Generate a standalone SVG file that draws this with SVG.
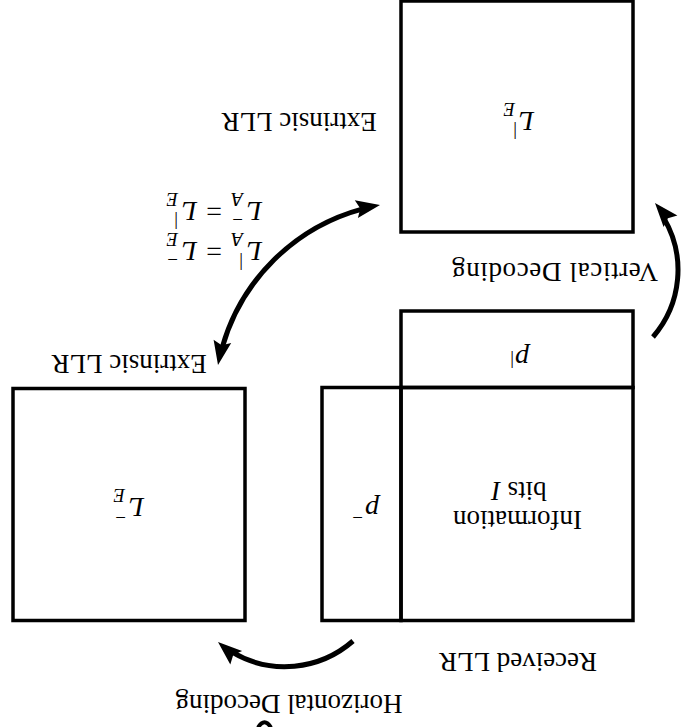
<svg xmlns="http://www.w3.org/2000/svg" width="681" height="727" viewBox="0 0 681 727">
<style>
.box{fill:none;stroke:#000;stroke-width:3.5}
.t{font-family:"Liberation Serif","DejaVu Serif",serif;font-size:27px;fill:#000}
.m{font-family:"Liberation Serif","DejaVu Serif",serif;font-style:italic;font-size:28px;fill:#000}
.s{font-family:"Liberation Serif","DejaVu Serif",serif;font-style:italic;font-size:19px;fill:#000}
.u{font-family:"Liberation Serif","DejaVu Serif",serif;font-size:19px;fill:#000}
.eq{font-family:"Liberation Serif","DejaVu Serif",serif;font-size:28px;fill:#000}
.arc{fill:none;stroke:#000;stroke-width:5}
.head{fill:#000;stroke:none}
</style>
<rect width="681" height="727" fill="#fff"/>

<g id="node-LE-vert">
<rect class="box" x="401" y="1" width="232" height="231"/>
<g transform="rotate(180 340.5 363.5)">
<text class="m" x="147" y="615">L</text>
<text class="s" x="166" y="624">E</text>
<text class="u" x="164" y="601">|</text>
</g>
</g>

<g id="label-extrinsic-top">
<g transform="rotate(180 340.5 363.5)"><text class="t" x="382" y="614" text-anchor="middle">Extrinsic LLR</text></g>
</g>

<g id="equations">
<g transform="rotate(180 340.5 363.5)">
<text class="m" x="419" y="485">L</text>
<text class="s" x="438" y="494">A</text>
<text class="u" x="438" y="470">|</text>
<text class="eq" x="459" y="485">=</text>
<text class="m" x="484" y="485">L</text>
<text class="s" x="503" y="494">E</text>
<text class="u" x="503" y="474">−</text>
<text class="m" x="419" y="525">L</text>
<text class="s" x="438" y="534">A</text>
<text class="u" x="438" y="514">−</text>
<text class="eq" x="459" y="525">=</text>
<text class="m" x="484" y="525">L</text>
<text class="s" x="503" y="534">E</text>
<text class="u" x="503" y="511">|</text>
</g>
</g>

<g id="label-vertical">
<g transform="rotate(180 340.5 363.5)"><text class="t" x="126" y="464" text-anchor="middle" textLength="206">Vertical Decoding</text></g>
</g>

<g id="node-p-vert">
<rect class="box" x="401" y="311" width="232" height="76.5"/>
<g transform="rotate(180 340.5 363.5)">
<text class="m" x="152" y="377">p</text>
<text class="u" x="167" y="372">|</text>
</g>
</g>

<g id="label-extrinsic-left">
<g transform="rotate(180 340.5 363.5)"><text class="t" x="552" y="372" text-anchor="middle">Extrinsic LLR</text></g>
</g>

<g id="node-info">
<rect class="box" x="401" y="387.5" width="232" height="233"/>
<g transform="rotate(180 340.5 363.5)">
<text class="t" x="163.5" y="216" text-anchor="middle">Information</text>
<text class="t" x="162" y="245" text-anchor="middle">bits <tspan font-style="italic">I</tspan></text>
</g>
</g>

<g id="node-p-horiz">
<rect class="box" x="322" y="387.5" width="79" height="233"/>
<g transform="rotate(180 340.5 363.5)">
<text class="m" x="302" y="226">p</text>
<text class="u" x="318" y="216">−</text>
</g>
</g>

<g id="node-LE-horiz">
<rect class="box" x="13" y="388.5" width="232" height="232"/>
<g transform="rotate(180 340.5 363.5)">
<text class="m" x="537" y="229">L</text>
<text class="s" x="556" y="238">E</text>
<text class="u" x="555" y="216">−</text>
</g>
</g>

<g id="label-received">
<g transform="rotate(180 340.5 363.5)"><text class="t" x="163" y="74" text-anchor="middle">Received LLR</text></g>
</g>

<g id="label-horizontal">
<g transform="rotate(180 340.5 363.5)"><text class="t" x="392" y="32" text-anchor="middle">Horizontal Decoding</text></g>
</g>

<g id="connectors">
<path class="arc" d="M 222.1 347.9 A 200 200 0 0 1 362.8 208.8"/>
<polygon class="head" points="218,365 231.2,343.1 221.7,345.3 213.6,339.7"/>
<polygon class="head" points="380,205 357.9,218 360.3,208.5 354.8,200.3"/>
<path class="arc" d="M 653 337 A 102.3 102.3 0 0 0 663.9 218.2"/>
<polygon class="head" points="655,203 677.4,215.5 667.9,218.2 663.6,227.1"/>
<path class="arc" d="M 353 641 A 103.6 103.6 0 0 1 232.1 652.2"/>
<polygon class="head" points="218,642 242.1,650.9 233.2,655.1 230.3,664.5"/>
</g>

<path d="M 258 727.5 Q 264.5 717 271 727.5" fill="none" stroke="#000" stroke-width="4"/>
</svg>
